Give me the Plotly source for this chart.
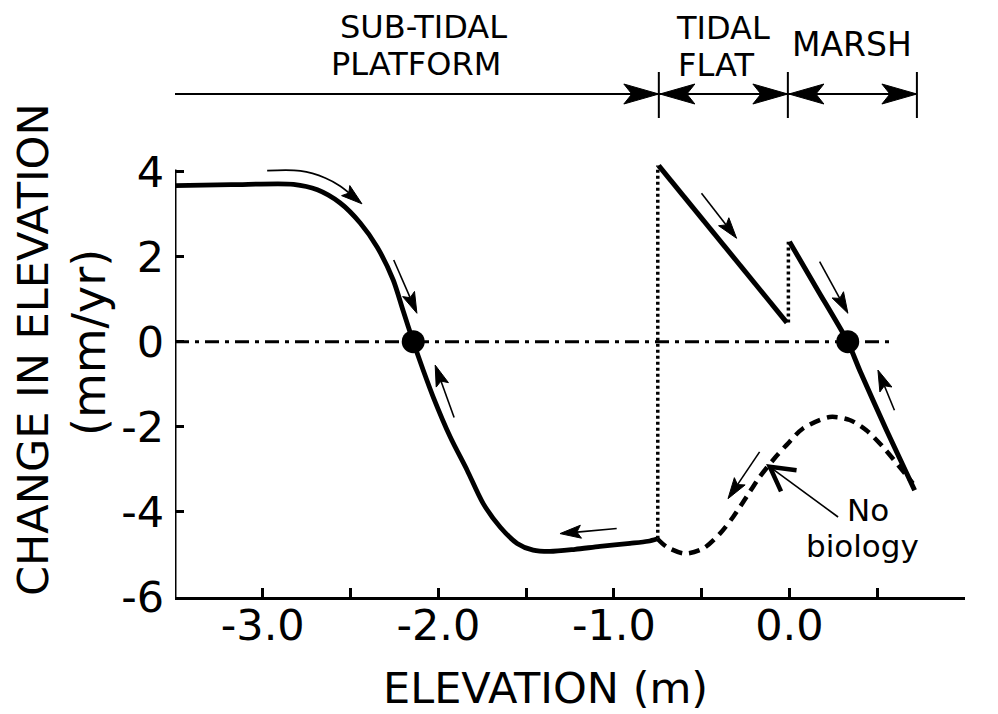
import math
import plotly.graph_objects as go

# ---------------- data ----------------
main_x = [-3.50, -3.18, -2.825, -2.689, -2.559, -2.445, -2.348, -2.257, -2.200, -2.143,
          -2.086, -2.029, -1.932, -1.836, -1.745, -1.647, -1.551, -1.460, -1.364, -1.221,
          -1.079, -0.908, -0.806, -0.752]
main_y = [3.67, 3.69, 3.70, 3.57, 3.26, 2.79, 2.22, 1.45, 0.72, 0.0,
          -0.67, -1.30, -2.24, -3.02, -3.80, -4.36, -4.74, -4.90, -4.93, -4.88,
          -4.81, -4.74, -4.69, -4.63]

flat_x = [-0.745, -0.015]
flat_y = [4.14, 0.45]

marsh_x = [0.000, 0.167, 0.332, 0.400, 0.553, 0.713]
marsh_y = [2.35, 1.17, 0.0, -0.67, -2.08, -3.49]

nobio_x = [-0.752, -0.700, -0.596, -0.491, -0.396, -0.321, -0.245, -0.170, -0.093, -0.017,
           0.077, 0.229, 0.343, 0.438, 0.532, 0.627, 0.703]
nobio_y = [-4.63, -4.82, -4.98, -4.86, -4.51, -4.12, -3.65, -3.18, -2.78, -2.43,
           -2.04, -1.77, -1.84, -2.08, -2.47, -2.94, -3.33]

drop1_x = [-0.750, -0.750]
drop1_y = [-4.63, 4.14]
drop2_x = [-0.006, -0.006]
drop2_y = [0.45, 2.35]

zero_x = [-3.5, 0.59]
zero_y = [0.0, 0.0]

equil_x = [-2.143, 0.332]
equil_y = [0.0, 0.0]

x_tickvals = [-3.0, -2.5, -2.0, -1.5, -1.0, -0.5, 0.0, 0.5, 1.0]
x_ticktext = ["-3.0", "", "-2.0", "", "-1.0", "", "0.0", "", "1.0"]
y_tickvals = [-6, -4, -2, 0, 2, 4]
y_ticktext = ["-6", "-4", "-2", "0", "2", "4"]

zone_bounds = [-3.5, -0.744, -0.009, 0.726]

# ---------------- layout constants ----------------
OFF = 8                      # page body margin
W, H = 998 - OFF, 714 - OFF
PL, PR, PT, PB = 175, 965, 163, 597   # plot area in page pixels
ML, MT = PL - OFF, PT - OFF
MR = W - (PR - OFF)
MB = H - (PB - OFF)
XR = [-3.5, 1.0]
YR = [-6.0, 4.2]
SX = (PR - PL) / (XR[1] - XR[0])
SY = (PB - PT) / (YR[1] - YR[0])
SP = (PB - PT)  # px per paper unit
FONT = "DejaVu Sans"

fig = go.Figure()

fig.add_trace(go.Scatter(x=zero_x, y=zero_y, mode="lines",
                         line=dict(color="black", width=3, dash="14px,6px,4px,6px")))
fig.add_trace(go.Scatter(x=drop1_x, y=drop1_y, mode="lines",
                         line=dict(color="black", width=3.5, dash="3px,3px")))
fig.add_trace(go.Scatter(x=drop2_x, y=drop2_y, mode="lines",
                         line=dict(color="black", width=3.5, dash="3px,3px")))
fig.add_trace(go.Scatter(x=nobio_x, y=nobio_y, mode="lines",
                         line=dict(color="black", width=4.5, dash="11px,7px", shape="spline", smoothing=0.8)))
fig.add_trace(go.Scatter(x=main_x, y=main_y, mode="lines",
                         line=dict(color="black", width=4.8, shape="spline", smoothing=0.8)))
fig.add_trace(go.Scatter(x=flat_x, y=flat_y, mode="lines",
                         line=dict(color="black", width=5)))
fig.add_trace(go.Scatter(x=marsh_x, y=marsh_y, mode="lines",
                         line=dict(color="black", width=5, shape="spline", smoothing=0.6)))
fig.add_trace(go.Scatter(x=equil_x, y=equil_y, mode="markers",
                         marker=dict(color="black", size=23, line=dict(width=0))))

shapes = []


def head(tip, tail, L, Wd, notch, sx, sy):
    tx, ty = tip[0] * sx, tip[1] * sy
    ux, uy = tail[0] * sx, tail[1] * sy
    dx, dy = tx - ux, ty - uy
    n = math.hypot(dx, dy)
    dx, dy = dx / n, dy / n
    px, py = -dy, dx
    bx, by = tx - dx * L, ty - dy * L
    nx, ny = tx - dx * (L - notch), ty - dy * (L - notch)
    pts = [(tx, ty), (bx + px * Wd, by + py * Wd), (nx, ny), (bx - px * Wd, by - py * Wd)]
    pts = [(a / sx, b / sy) for a, b in pts]
    path = "M {} {} L {} {} L {} {} L {} {} Z".format(*[v for p in pts for v in p])
    return path, (nx / sx, ny / sy)


def arrow(tail, tip, L=21, Wd=6.5, notch=4, lw=1.6):
    path, nk = head(tip, tail, L, Wd, notch, SX, SY)
    shapes.append(dict(type="line", xref="x", yref="y", x0=tail[0], y0=tail[1],
                       x1=nk[0], y1=nk[1], line=dict(color="black", width=lw)))
    shapes.append(dict(type="path", xref="x", yref="y", path=path,
                       fillcolor="black", line=dict(color="black", width=1)))


# thin arrows along the curves
arrow((-2.254, 1.92), (-2.122, 0.668))
arrow((-1.910, -1.78), (-2.018, -0.55))
arrow((-0.984, -4.39), (-1.307, -4.51))
arrow((-0.501, 3.49), (-0.301, 2.43))
arrow((0.172, 1.88), (0.333, 0.668))
arrow((0.598, -1.61), (0.504, -0.666))
arrow((-0.170, -2.59), (-0.350, -3.69))

# curved arrow at the top
cx = [-2.975, -2.786, -2.644, -2.560, -2.470]
cy = [4.02, 4.015, 3.85, 3.66, 3.36]
fig.add_trace(go.Scatter(x=cx, y=cy, mode="lines",
                         line=dict(color="black", width=1.6, shape="spline", smoothing=1.0)))
p, nk = head((-2.435, 3.24), (cx[-2], cy[-2]), 21, 6.5, 4, SX, SY)
shapes.append(dict(type="path", xref="x", yref="y", path=p, fillcolor="black",
                   line=dict(color="black", width=1)))

# "No biology" pointer with open V head
ptip = (-0.112, -2.94)
ptail = (0.277, -4.12)
shapes.append(dict(type="line", xref="x", yref="y", x0=ptail[0], y0=ptail[1], x1=ptip[0], y1=ptip[1],
                   line=dict(color="black", width=1.6)))
tx, ty = ptip[0] * SX, ptip[1] * SY
ang = math.atan2(ptail[1] * SY - ty, ptail[0] * SX - tx)
arm = 27
vpts = []
for s in (-1, 1):
    a = ang + s * math.radians(29)
    vpts.append(((tx + arm * math.cos(a)) / SX, (ty + arm * math.sin(a)) / SY))
shapes.append(dict(type="path", xref="x", yref="y",
                   path="M {} {} L {} {} L {} {}".format(vpts[0][0], vpts[0][1], ptip[0], ptip[1],
                                                         vpts[1][0], vpts[1][1]),
                   line=dict(color="black", width=4.5)))

# y axis line (ends just above 4)
shapes.append(dict(type="line", xref="x", yref="y", x0=-3.5, y0=-6.0, x1=-3.5, y1=4.05,
                   line=dict(color="black", width=3)))


def py2paper(py):
    return (PB - py) / SP


def px2paper(px):
    return (px - PL) / (PR - PL)


# header zone arrows
hy = py2paper(94)
shapes.append(dict(type="line", xref="x", yref="paper", x0=zone_bounds[0], y0=hy, x1=zone_bounds[-1], y1=hy,
                   line=dict(color="black", width=2)))
for b in zone_bounds[1:]:
    shapes.append(dict(type="line", xref="x", yref="paper", x0=b, y0=py2paper(118), x1=b,
                       y1=py2paper(72), line=dict(color="black", width=2)))


def hhead(tip_x, direction):
    tip = (tip_x, hy)
    tail = (tip_x - direction, hy)
    path, _ = head(tip, tail, 35, 10, 8, SX, SP)
    shapes.append(dict(type="path", xref="x", yref="paper", path=path, fillcolor="black",
                       line=dict(color="black", width=1)))


hhead(zone_bounds[1], 1)
hhead(zone_bounds[1] + 0.006, -1)
hhead(zone_bounds[2], 1)
hhead(zone_bounds[2] + 0.006, -1)
hhead(zone_bounds[3], 1)

# ---------------- annotations ----------------
ann = []
C = dict(showarrow=False, xanchor="center", yanchor="middle", borderpad=0)
hdr_font = dict(family=FONT, size=32, color="black")
ann.append(dict(text="SUB-TIDAL", x=-2.082, y=py2paper(27), xref="x", yref="paper", font=hdr_font, **C))
ann.append(dict(text="PLATFORM", x=-2.130, y=py2paper(64), xref="x", yref="paper", font=hdr_font, **C))
ann.append(dict(text="TIDAL", x=-0.379, y=py2paper(28), xref="x", yref="paper", font=hdr_font, **C))
ann.append(dict(text="FLAT", x=-0.419, y=py2paper(65), xref="x", yref="paper", font=hdr_font, **C))
ann.append(dict(text="MARSH", x=0.354, y=py2paper(45), xref="x", yref="paper",
                font=dict(family=FONT, size=33, color="black"), **C))

nb_font = dict(family=FONT, size=31, color="black")
ann.append(dict(text="No", x=0.450, y=-3.95, xref="x", yref="y", font=nb_font, **C))
ann.append(dict(text="biology", x=0.418, y=-4.80, xref="x", yref="y", font=nb_font, **C))

title_font = dict(family=FONT, size=43, color="black")
ann.append(dict(text="ELEVATION (m)", x=px2paper(545), y=py2paper(688), xref="paper", yref="paper",
                font=title_font, **C))
ann.append(dict(text="CHANGE IN ELEVATION", x=px2paper(33), y=py2paper(350), xref="paper",
                yref="paper", textangle=-90, font=title_font, **C))
ann.append(dict(text="(mm/yr)", x=px2paper(89), y=py2paper(343), xref="paper",
                yref="paper", textangle=-90, font=dict(family=FONT, size=46, color="black"), **C))

fig.update_layout(
    width=W, height=H,
    margin=dict(l=ML, r=MR, t=MT, b=MB),
    paper_bgcolor="white", plot_bgcolor="white",
    showlegend=False,
    shapes=shapes, annotations=ann,
    xaxis=dict(range=XR, tickvals=x_tickvals, ticktext=x_ticktext, ticks="inside", ticklen=9,
               tickwidth=2.5, tickcolor="black", showline=True, linewidth=3, linecolor="black",
               showgrid=False, zeroline=False, tickfont=dict(family=FONT, size=43, color="black"),
               ticklabelstandoff=-12),
    yaxis=dict(range=YR, tickvals=y_tickvals, ticktext=y_ticktext, ticks="inside", ticklen=9,
               tickwidth=2.5, tickcolor="black", showline=False,
               showgrid=False, zeroline=False, tickfont=dict(family=FONT, size=43, color="black"),
               ticklabelstandoff=10),
)

fig.write_html("out.html")
